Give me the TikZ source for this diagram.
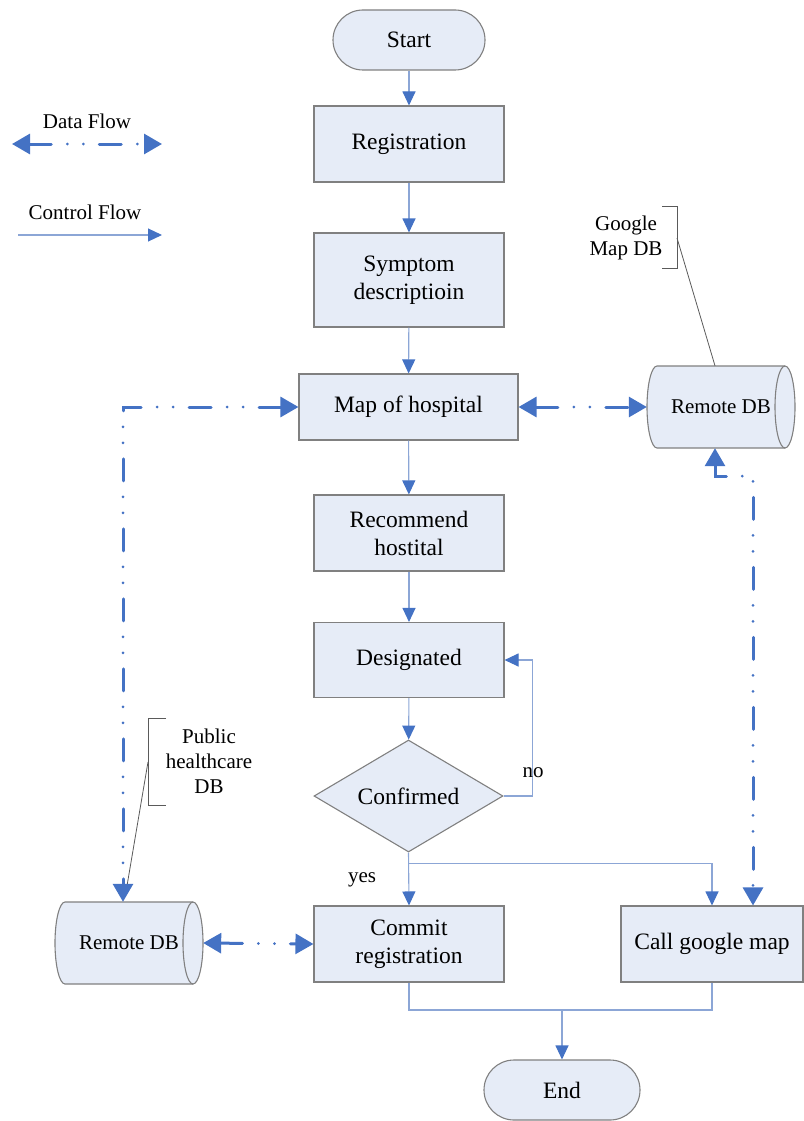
\documentclass[tikz,border=0pt]{standalone}
\usepackage{fontspec}
\setmainfont{Liberation Serif}
\usetikzlibrary{arrows.meta,shapes.geometric}
\definecolor{nodefill}{RGB}{230,236,247}
\definecolor{nodeborder}{RGB}{128,128,128}
\definecolor{ctrlline}{RGB}{140,166,214}
\definecolor{dblue}{RGB}{68,114,196}
\definecolor{annot}{RGB}{90,90,90}
\newcommand{\drawdbcyl}[2]{%
  \filldraw[draw=nodeborder, fill=nodefill, line width=1.1pt]
    (#1-64,#2-41) -- (#1+64,#2-41)
    arc[start angle=-90,end angle=90,x radius=10,y radius=41]
    -- (#1-64,#2+41)
    arc[start angle=90,end angle=270,x radius=10,y radius=41] -- cycle;
  \draw[nodeborder, line width=1.1pt]
    (#1+64,#2-41) arc[start angle=270,end angle=90,x radius=10,y radius=41];
}
\begin{document}
\begin{tikzpicture}[x=1pt,y=-1pt,
  mainfont/.style={font=\fontsize{23.5}{28}\selectfont},
  smallfont/.style={font=\fontsize{21}{25}\selectfont},
  box/.style={draw=nodeborder, fill=nodefill, line width=1.1pt,
    minimum width=190pt, minimum height=76pt, align=center, inner sep=2pt, mainfont},
  term/.style={box, rounded corners=30pt, minimum width=152pt, minimum height=60pt},
  dec/.style={box, diamond, aspect=1.69, inner sep=0pt, minimum width=189pt, minimum height=112pt},
  dblabel/.style={smallfont, minimum width=148pt, minimum height=82pt, inner sep=0pt},
  lbl/.style={smallfont, inner sep=0pt, align=center},
  ctrl/.style={draw=ctrlline, line width=1.1pt},
  carrow/.style={ctrl, -{Triangle[length=14pt,width=13pt,color=dblue]}},
  dflow/.style={draw=dblue, line width=3pt,
    dash pattern=on 22pt off 16pt on 0pt off 16pt on 0pt off 16pt, line cap=round,
    {Triangle[length=18pt,width=20pt]}-{Triangle[length=18pt,width=20pt]}},
  annline/.style={draw=annot, line width=0.8pt}
]
\useasboundingbox (0,0) rectangle (803,1121);

% legend
\node[lbl] (dftext) at (87,121) {Data Flow};
\coordinate (dfa) at (12,144);
\coordinate (dfb) at (162,144);
\draw[dflow] (dfa) -- (dfb);
\node[lbl] (cftext) at (85,212) {Control Flow};
\coordinate (cfa) at (18,235);
\coordinate (cfb) at (162,235);
\draw[carrow] (cfa) -- (cfb);

% main flow
\node[term] (start) at (409,40) {Start};
\node[box] (reg) at (409,144) {Registration};
\node[box, minimum height=94pt] (sym) at (409,280) {Symptom\\descriptioin};
\node[box, minimum width=219pt, minimum height=66pt] (map) at (408.5,407) {Map of hospital};
\node[box] (rec) at (409,533) {Recommend\\hostital};
\node[box, minimum height=75pt] (des) at (409,660) {Designated};
\node[dec] (conf) at (408.5,796) {Confirmed};
\node[box] (commit) at (409,944) {Commit\\registration};
\node[box, minimum width=182pt] (cgm) at (712,944) {Call google map};
\node[term, minimum width=156pt] (end) at (562,1090) {End};

% databases
\drawdbcyl{721}{407}
\node[dblabel] (rdb1) at (721,407) {Remote DB};
\drawdbcyl{129}{943}
\node[dblabel] (rdb2) at (129,943) {Remote DB};

% annotations
\node[lbl] (gtext) at (626,238) {Google\\Map DB};
\draw[annline] (662,206) -- (677,206) -- (677,268) -- (662,268);
\draw[annline] (677,238) -- ([xshift=-6pt]rdb1.north);
\node[lbl] (ptext) at (209,761) {Public\\healthcare\\DB};
\draw[annline] (166,718) -- (148,718) -- (148,805) -- (166,805);
\draw[annline] (148,762) -- ([xshift=-2pt,yshift=16pt]rdb2.north);

% control flow
\draw[carrow] (start) -- (reg);
\draw[carrow] (reg) -- (sym);
\draw[carrow] (sym) -- (map);
\draw[carrow] (map) -- (rec);
\draw[carrow] (rec) -- (des);
\draw[carrow] (des) -- (conf);
\draw[carrow] (conf.east) -| ([xshift=28pt]des.east) -- (des.east);
\node[lbl] (nolbl) at (533,773) {no};
\draw[carrow] (conf.south) -- (commit.north);
\draw[carrow] ([yshift=-11pt]conf.south) -| (cgm.north);
\node[lbl] (yeslbl) at (362,880) {yes};
\coordinate (mrg) at (562,1010);
\draw[ctrl] (commit.south) |- (mrg) -| (cgm.south);
\draw[carrow] (mrg) -- (end.north);

% data flow
\draw[dflow] (map.east) -- (rdb1.west);
\draw[dflow] (map.west) -| ([xshift=-6pt]rdb2.north);
\draw[dflow] (rdb2.east) -- (commit.west);
\draw[dflow] ([xshift=-6pt]rdb1.south) -- ++(0,28) -| ([xshift=41pt]cgm.north);
\end{tikzpicture}
\end{document}
